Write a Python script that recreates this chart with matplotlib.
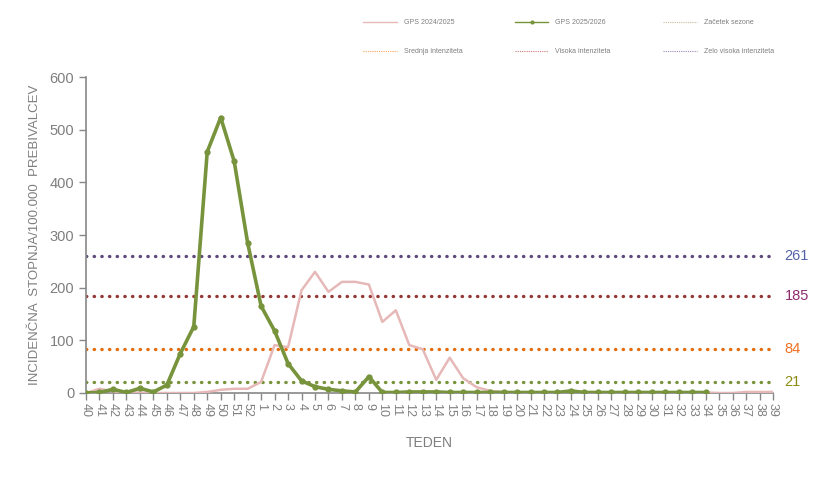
import matplotlib
matplotlib.use("Agg")
import matplotlib.pyplot as plt
from matplotlib.lines import Line2D

# weeks 40..52 then 1..39
WEEKS = [str(w) for w in range(40, 53)] + [str(w) for w in range(1, 40)]

GPS_2024 = [0, 8, 3, 1, 1, 0, 0, 0, 0, 2, 6, 8, 8, 21, 91, 87, 195, 230, 192, 211,
            211, 206, 135, 157, 91, 83, 25, 67, 28, 11, 4, 2, 1, 1, 1, 1, 1, 1, 1, 1,
            1, 1, 1, 1, 1, 1, 1, 0, 0, 2, 2, 2]
GPS_2025 = [0, 1, 7, 1, 9, 2, 15, 75, 126, 458, 523, 440, 285, 165, 118, 56, 23, 12, 7, 4,
            2, 31, 1, 1, 2, 2, 2, 1, 1, 1, 1, 1, 1, 1, 1, 1, 4, 1, 1, 1,
            1, 1, 1, 1, 1, 1, 1]

THRESHOLDS = [21, 84, 185, 261]
THRESH_NAMES = ["Začetek sezone", "Srednja intenziteta", "Visoka intenziteta", "Zelo visoka intenziteta"]
THRESH_COLORS = ["#77933C", "#E46C0A", "#953735", "#604A7B"]
LABEL_COLORS = ["#8C8C14", "#F07020", "#8E2C6E", "#5363A6"]
LEGEND_COLORS = ["#C4BD97", "#F9A55C", "#D07A78", "#9A86B8"]

GRAY = "#7F7F7F"
PINK = "#E6B9B8"
GREEN = "#77933C"

plt.rcParams.update({
    "font.family": "Liberation Sans",
    "font.size": 10,
})

fig = plt.figure(figsize=(8.32, 4.87), dpi=100)
ax = fig.add_axes([86 / 832, 1 - 393 / 487, (773 - 86) / 832, (393 - 77) / 487])

x_all = list(range(len(WEEKS)))

for val, col, lcol in zip(THRESHOLDS, THRESH_COLORS, LABEL_COLORS):
    ax.plot([0, len(WEEKS) - 1], [val, val], color=col, linestyle=(0, (0.1, 2.2)),
            linewidth=2.4, dash_capstyle="round")
    ax.text(len(WEEKS) - 1 + 0.85, val, str(val), color=lcol, fontsize=10.5,
            va="center", ha="left")

ax.plot(x_all[:len(GPS_2024)], GPS_2024, color=PINK, linewidth=1.8, zorder=3)
ax.plot(x_all[:len(GPS_2025)], GPS_2025, color=GREEN, linewidth=2.6,
        marker="o", markersize=3.5, zorder=4)

ax.set_xlim(0, len(WEEKS) - 1)
ax.set_ylim(0, 600)
ax.set_yticks(range(0, 700, 100))
ax.set_xticks(x_all)
ax.set_xticklabels(WEEKS, rotation=-90, fontsize=9)

for side in ["top", "right"]:
    ax.spines[side].set_visible(False)
for side in ["left", "bottom"]:
    ax.spines[side].set_color("#888888")
    ax.spines[side].set_linewidth(1.2)
ax.tick_params(axis="both", colors="#888888", labelcolor=GRAY, length=5, width=1)
ax.tick_params(axis="x", pad=2)
ax.tick_params(axis="y", labelsize=10.5)

ax.set_xlabel("TEDEN", color=GRAY, fontsize=10, labelpad=14)
ax.set_ylabel("INCIDENČNA  STOPNJA/100.000  PREBIVALCEV", color=GRAY, fontsize=9.5, labelpad=6)

# legend (column-first order so rows read left to right)
h_2024 = Line2D([], [], color=PINK, linewidth=1)
h_2025 = Line2D([], [], color=GREEN, linewidth=1, marker="o", markersize=2)
h_th = [Line2D([], [], color=c, linestyle=(0, (1, 1)), linewidth=0.8) for c in LEGEND_COLORS]
handles = [h_2024, h_th[1], h_2025, h_th[2], h_th[0], h_th[3]]
labels = ["GPS 2024/2025", THRESH_NAMES[1], "GPS 2025/2026", THRESH_NAMES[2],
          THRESH_NAMES[0], THRESH_NAMES[3]]
leg = fig.legend(handles, labels, ncol=3, loc="upper left", bbox_to_anchor=(357 / 832, 1 - 13 / 487),
                 frameon=False, fontsize=5, handlelength=4.8, columnspacing=7.6,
                 labelspacing=3.2, handletextpad=1)
for t in leg.get_texts():
    t.set_color(GRAY)

fig.savefig("out.png", dpi=100)
